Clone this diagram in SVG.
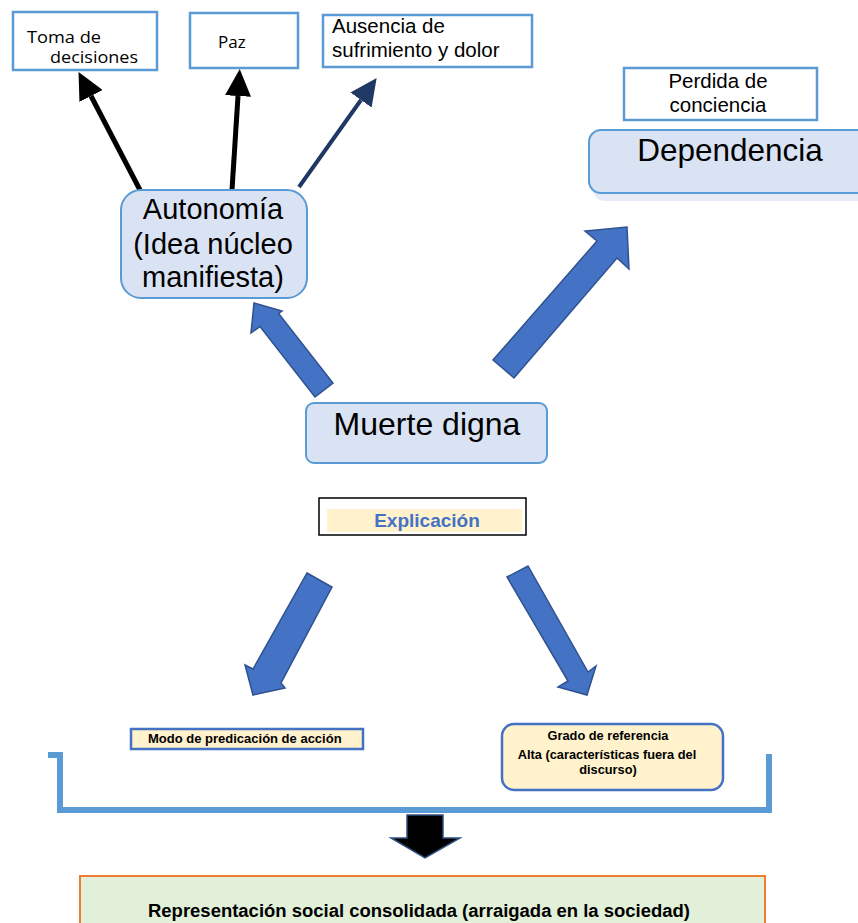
<svg xmlns="http://www.w3.org/2000/svg" width="858" height="923" viewBox="0 0 858 923">
  <style>
    .sq { fill: #ffffff; stroke: #5b9bd5; stroke-width: 2.5; }
    .soft { fill: #dae3f3; stroke: #5b9bd5; stroke-width: 2; }
    .cream { fill: #fff2cc; stroke: #4472c4; stroke-width: 2.5; }
    .block { fill: #4472c4; stroke: #2f528f; stroke-width: 1.5; stroke-linejoin: miter; }
    .cal { font-family: "Open Sans", "Noto Sans", sans-serif; fill: #000; }
    .ar { font-family: "Liberation Sans", Arial, sans-serif; fill: #000; }
    .arb { font-family: "Liberation Sans", Arial, sans-serif; font-weight: bold; fill: #000; }
    .mid { text-anchor: middle; }
  </style>
  <defs>
    <marker id="headBlack" viewBox="0 0 27 26" refX="0" refY="13" markerUnits="userSpaceOnUse" markerWidth="27" markerHeight="26" orient="auto">
      <path d="M0,0 L27,13 L0,26 z" fill="#000"/>
    </marker>
    <marker id="headNavy" viewBox="0 0 27 26" refX="0" refY="13" markerUnits="userSpaceOnUse" markerWidth="27" markerHeight="26" orient="auto">
      <path d="M0,0 L27,13 L0,26 z" fill="#203864"/>
    </marker>
  </defs>

  <!-- connectors -->
  <g id="connectors">
    <line x1="140" y1="190" x2="91" y2="96" stroke="#000" stroke-width="5" marker-end="url(#headBlack)"/>
    <line x1="232" y1="190" x2="238" y2="96" stroke="#000" stroke-width="5" marker-end="url(#headBlack)"/>
    <line x1="299" y1="187" x2="361" y2="100" stroke="#203864" stroke-width="4" marker-end="url(#headNavy)"/>
    <!-- block arrows -->
    <polygon class="block" points="254,303 282,311 278.6,313.4 333,383 315,397 260,326.6 251,333"/>
    <polygon class="block" points="627,227 629,269 617,258 514,378 493,360 597,241 585,231"/>
    <polygon class="block" points="307,573 332,587 281,683 285,688 253,695 245,665 253,669"/>
    <polygon class="block" points="507,577 528,566 588,672 596,666 587,695 558,687 568,681"/>
    <!-- bracket -->
    <path d="M48,755 H60 V810 H769 V754" fill="none" stroke="#5b9bd5" stroke-width="6"/>
    <!-- down arrow -->
    <polygon points="407,815 443,815 443,838 460,838 425,858 391,838 407,838" fill="#000" stroke="#2f4f7f" stroke-width="1.5"/>
  </g>

  <g id="toma">
    <rect class="sq" x="13" y="12" width="144" height="58"/>
    <text class="cal" x="27" y="43" font-size="16.5" textLength="74" lengthAdjust="spacingAndGlyphs">Toma de</text>
    <text class="cal" x="50" y="63" font-size="16.5" textLength="88" lengthAdjust="spacingAndGlyphs">decisiones</text>
  </g>

  <g id="paz">
    <rect class="sq" x="190" y="13" width="108" height="55"/>
    <text class="cal" x="218" y="48" font-size="17">Paz</text>
  </g>

  <g id="ausencia">
    <rect class="sq" x="323" y="15" width="209" height="52"/>
    <text class="ar" x="332" y="33" font-size="20.5">Ausencia de</text>
    <text class="ar" x="332" y="57" font-size="20.5">sufrimiento y dolor</text>
  </g>

  <g id="perdida">
    <rect class="sq" x="624" y="68" width="193" height="52"/>
    <text class="ar mid" x="718" y="88" font-size="20.5">Perdida de</text>
    <text class="ar mid" x="718" y="112" font-size="20.5">conciencia</text>
  </g>

  <g id="dependencia">
    <rect x="593" y="137" width="290" height="64" rx="12" fill="#dae3f3" opacity="0.7"/>
    <rect class="soft" x="589" y="130" width="290" height="63" rx="12"/>
    <text class="ar mid" x="730" y="161" font-size="31.5">Dependencia</text>
  </g>

  <g id="autonomia">
    <rect class="soft" x="121" y="190" width="186" height="108" rx="20" stroke="#4472c4"/>
    <text class="ar mid" x="213" y="219" font-size="29">Autonomía</text>
    <text class="ar mid" x="213" y="254" font-size="29">(Idea núcleo</text>
    <text class="ar mid" x="213" y="287" font-size="29">manifiesta)</text>
  </g>

  <g id="muerte">
    <rect class="soft" x="306" y="403" width="241" height="60" rx="8"/>
    <text class="ar mid" x="427" y="435" font-size="32">Muerte digna</text>
  </g>

  <g id="explicacion">
    <rect x="319" y="498" width="207" height="37" fill="#fff" stroke="#000" stroke-width="1.5"/>
    <rect x="327" y="509" width="195" height="23" fill="#fff2cc"/>
    <text class="arb mid" x="427" y="527" font-size="19" style="fill:#4472c4">Explicación</text>
  </g>

  <g id="modo">
    <rect class="cream" x="131" y="729" width="232" height="20"/>
    <text class="arb" x="148" y="742.5" font-size="13">Modo de predicación de acción</text>
  </g>

  <g id="grado">
    <rect class="cream" x="502" y="724" width="221" height="66" rx="12"/>
    <text class="arb mid" x="608" y="740" font-size="12.8">Grado de referencia</text>
    <text class="arb mid" x="607" y="759" font-size="12.8">Alta (características fuera del</text>
    <text class="arb mid" x="608" y="774" font-size="12.8">discurso)</text>
  </g>

  <g id="representacion">
    <rect x="80" y="876" width="685" height="60" fill="#e2f0d9" stroke="#ed7d31" stroke-width="2"/>
    <text class="arb mid" x="419" y="917" font-size="18" textLength="542" lengthAdjust="spacingAndGlyphs">Representación social consolidada (arraigada en la sociedad)</text>
  </g>
</svg>
